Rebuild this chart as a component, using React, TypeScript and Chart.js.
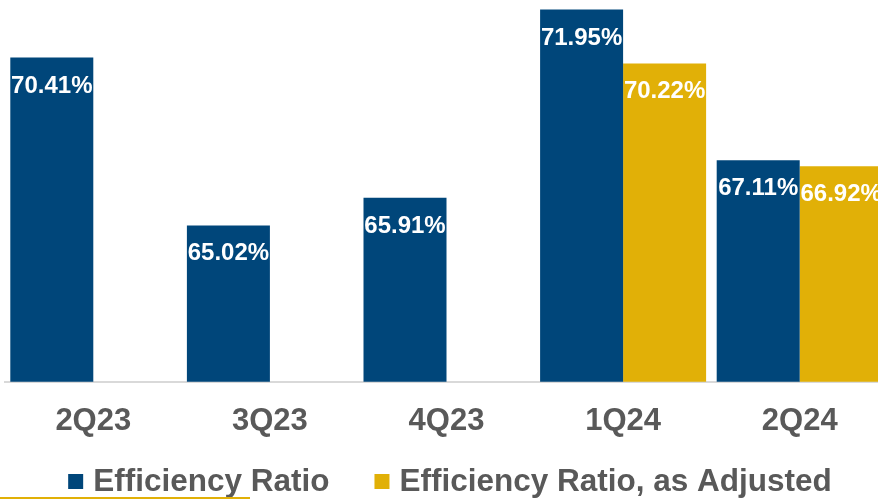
import React, { useEffect, useRef } from "react";
import { Chart, registerables } from "chart.js";

Chart.register(...registerables);

const categories = ["2Q23", "3Q23", "4Q23", "1Q24", "2Q24"];
const efficiencyRatio = [70.41, 65.02, 65.91, 71.95, 67.11];
const efficiencyRatioAdjusted = [null, null, null, 70.22, 66.92];
const seriesNames = ["Efficiency Ratio", "Efficiency Ratio, as Adjusted"];

const BLUE = "#00467A";
const GOLD = "#E1B007";
const GRAY = "#595959";
const FONT = '"Liberation Sans", Arial, sans-serif';

const valueLabels = {
  id: "valueLabels",
  afterDatasetsDraw(chart: any) {
    const ctx = chart.ctx;
    ctx.save();
    ctx.font = `bold 24px ${FONT}`;
    ctx.fillStyle = "#ffffff";
    ctx.textAlign = "center";
    ctx.textBaseline = "alphabetic";
    chart.data.datasets.forEach((ds: any, i: number) => {
      const meta = chart.getDatasetMeta(i);
      meta.data.forEach((el: any, j: number) => {
        const v = ds.data[j];
        if (v == null) return;
        ctx.fillText(`${v.toFixed(2)}%`, el.x, el.y + 35);
      });
    });
    ctx.restore();
  },
};

const customLegend = {
  id: "customLegend",
  afterDraw(chart: any) {
    const ctx = chart.ctx;
    ctx.save();
    ctx.font = `bold 31.5px ${FONT}`;
    const box = 15;
    const gap = 10;
    const spacing = 45;
    const items = chart.data.datasets.map((ds: any) => ({
      text: ds.label,
      color: ds.backgroundColor,
      w: ctx.measureText(ds.label).width,
    }));
    const total =
      items.reduce((s: number, it: any) => s + box + gap + it.w, 0) +
      spacing * (items.length - 1);
    let x = chart.width / 2 - total / 2;
    const baseline = chart.height - 8;
    items.forEach((it: any) => {
      ctx.fillStyle = it.color;
      ctx.fillRect(x, chart.height - 25, box, 15);
      x += box + gap;
      ctx.fillStyle = GRAY;
      ctx.textAlign = "left";
      ctx.textBaseline = "alphabetic";
      ctx.fillText(it.text, x, baseline);
      x += it.w + spacing;
    });
    ctx.restore();
  },
};

export default function App() {
  const canvasRef = useRef<HTMLCanvasElement | null>(null);

  useEffect(() => {
    if (!canvasRef.current) return;
    const chart = new Chart(canvasRef.current, {
      type: "bar",
      data: {
        labels: categories,
        datasets: [
          {
            label: seriesNames[0],
            data: efficiencyRatio,
            backgroundColor: BLUE,
            barPercentage: 1,
            categoryPercentage: 0.94,
          },
          {
            label: seriesNames[1],
            data: efficiencyRatioAdjusted as any,
            backgroundColor: GOLD,
            barPercentage: 1,
            categoryPercentage: 0.94,
          },
        ],
      },
      options: {
        animation: false,
        responsive: true,
        maintainAspectRatio: false,
        layout: { padding: { top: 8, left: 5, right: 12, bottom: 38 } },
        plugins: {
          legend: { display: false },
          tooltip: { enabled: false },
        },
        scales: {
          x: {
            grid: { display: false, drawTicks: false },
            border: { display: true, color: "#D9D9D9", width: 2 },
            ticks: {
              color: GRAY,
              font: { size: 31, weight: "bold", family: FONT },
              padding: 21,
              maxRotation: 0,
              autoSkip: false,
            },
          },
          y: {
            display: false,
            min: 60,
            max: 72,
          },
        },
      },
      plugins: [valueLabels, customLegend],
    });
    return () => chart.destroy();
  }, []);

  return (
    <div
      style={{
        position: "fixed",
        left: 0,
        top: 0,
        width: 878,
        height: 499,
        overflow: "hidden",
        background: "#ffffff",
      }}
    >
      <div style={{ position: "absolute", left: 0, top: 0, width: 900, height: 499 }}>
        <canvas ref={canvasRef} />
      </div>
      <div
        style={{
          position: "absolute",
          left: 0,
          top: 497,
          width: 250,
          height: 1.5,
          background: GOLD,
        }}
      />
    </div>
  );
}
